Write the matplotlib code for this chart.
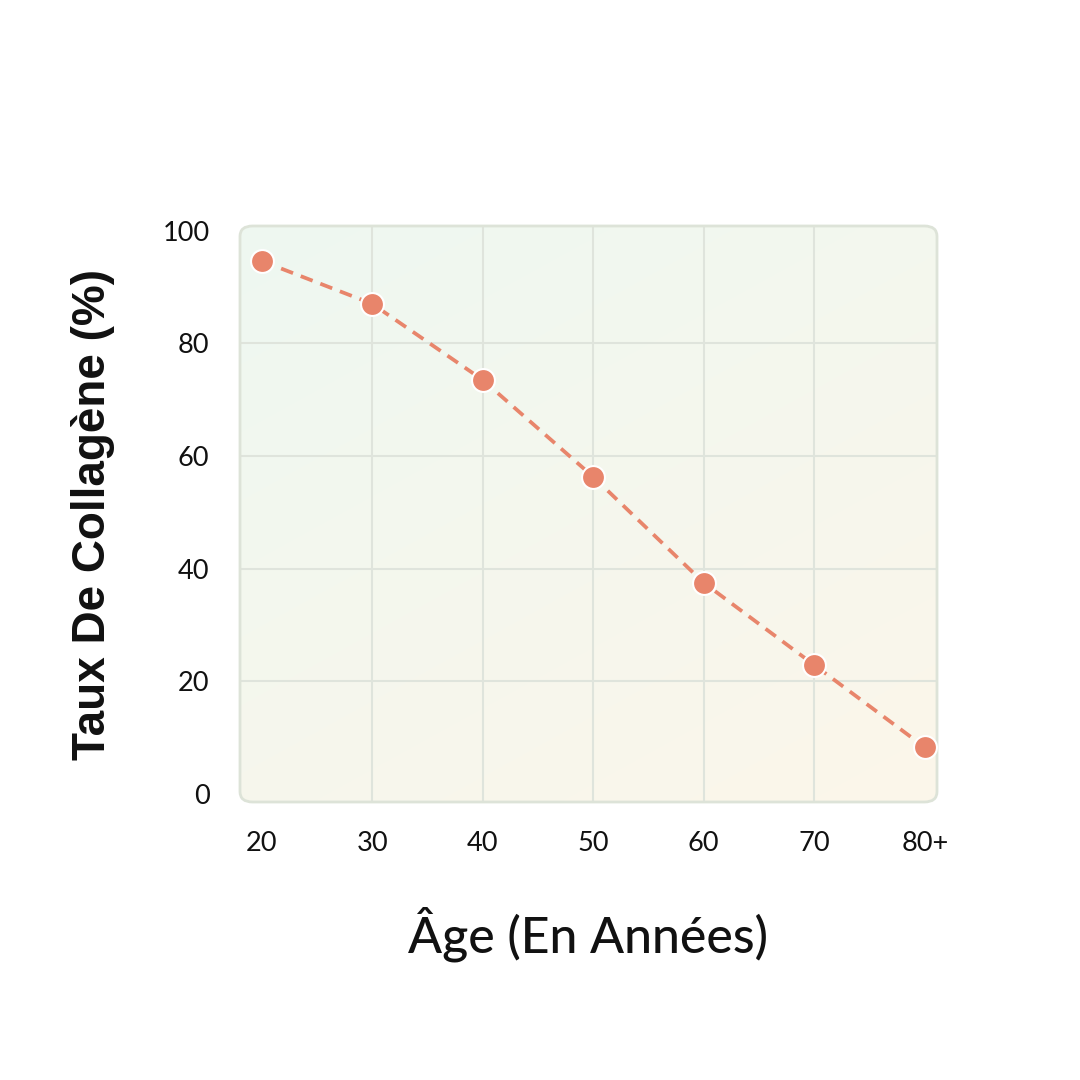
import matplotlib
matplotlib.use("Agg")
import matplotlib.pyplot as plt
import numpy as np
from matplotlib.patches import FancyBboxPatch
from matplotlib.colors import to_rgb

# ---- data ----
ages = [20, 30, 40, 50, 60, 70, 80]
age_labels = ["20", "30", "40", "50", "60", "70", "80+"]
collagen = [94.6, 87.0, 73.5, 56.3, 37.5, 22.9, 8.3]
y_ticks = [0, 20, 40, 60, 80, 100]

line_color = "#e8856b"
grid_color = "#dfe4dc"
border_color = "#dde3d8"
c_tl = np.array(to_rgb("#eef8f1"))
c_br = np.array(to_rgb("#fcf6ea"))

fig = plt.figure(figsize=(10.8, 10.8), dpi=100)
fig.patch.set_facecolor("white")
ax = fig.add_axes([240/1080, 1-802/1080, (937-240)/1080, (802-226)/1080])
ax.set_xlim(18.05, 81.1)
ax.set_ylim(-1.4, 100.8)

for s in ax.spines.values():
    s.set_visible(False)
ax.set_facecolor("none")

# gradient background with rounded border
box = FancyBboxPatch((0, 0), 1, 1, boxstyle="round,pad=0,rounding_size=0.018",
                     transform=ax.transAxes, facecolor="none",
                     edgecolor=border_color, linewidth=2.0, zorder=3, clip_on=False)
ax.add_patch(box)
n = 200
u = np.linspace(0, 1, n)
X, Y = np.meshgrid(u, u)
t = np.clip((X * 0.4 + Y * 0.6), 0, 1)
img = c_tl[None, None, :] * (1 - t[..., None]) + c_br[None, None, :] * t[..., None]
im = ax.imshow(img, extent=(0, 1, 0, 1), transform=ax.transAxes, aspect="auto",
               zorder=0, interpolation="bilinear", origin="upper")
clipbox = FancyBboxPatch((0, 0), 1, 1, boxstyle="round,pad=0,rounding_size=0.018",
                         transform=ax.transAxes, facecolor="none", edgecolor="none")
ax.add_patch(clipbox)
im.set_clip_path(clipbox)

# grid lines (inner only)
for yv in y_ticks[1:-1]:
    ax.axhline(yv, color=grid_color, linewidth=1.5, zorder=1)
for xv in ages[1:-1]:
    ax.axvline(xv, color=grid_color, linewidth=1.5, zorder=1)

# data
ax.plot(ages, collagen, linestyle=(0, (3.4, 2.2)), color=line_color, linewidth=2.7,
        zorder=4)
ax.plot(ages, collagen, linestyle="none", marker="o", markersize=16.5,
        markerfacecolor=line_color, markeredgecolor="white", markeredgewidth=1.5,
        zorder=5, clip_on=False)

ax.set_xticks(ages)
ax.set_xticklabels(age_labels)
ax.set_yticks(y_ticks)
ax.tick_params(axis="both", length=0, labelsize=19.5, colors="#111111")
ax.tick_params(axis="x", pad=21)
ax.tick_params(axis="y", pad=22)
for lab in ax.get_xticklabels() + ax.get_yticklabels():
    lab.set_fontfamily("Lato")

ax.set_ylabel("Taux De Collagène (%)", fontsize=33, fontweight="bold",
              fontfamily="Liberation Sans", labelpad=34, color="#111111")
ax.set_xlabel("Âge (En Années)", fontsize=36, fontweight="medium",
              fontfamily="Lato", labelpad=36, color="#111111")

fig.savefig("out.png", dpi=100, facecolor="white")
